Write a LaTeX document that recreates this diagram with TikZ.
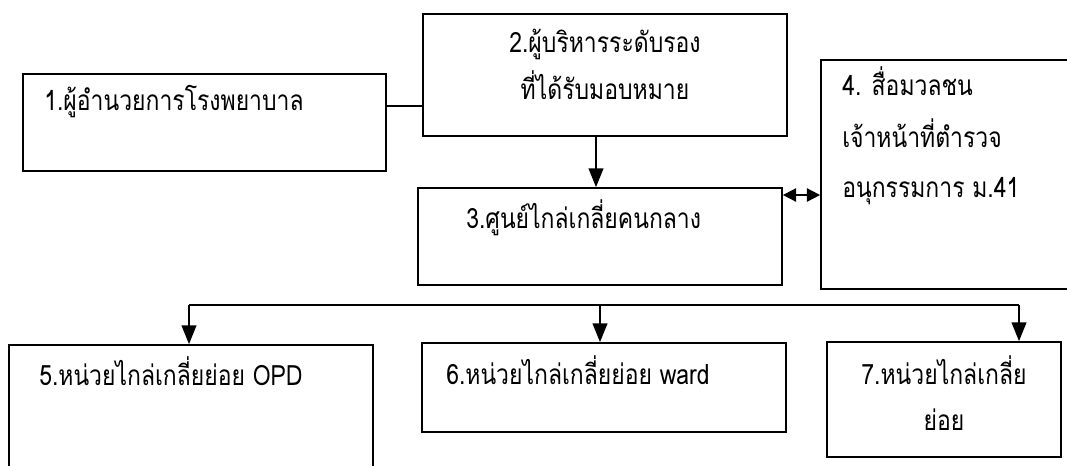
\documentclass[tikz,border=0pt]{standalone}
\usepackage{fontspec}
\newfontfamily\thaifont[Script=Thai,FakeStretch=0.82]{Loma}
\usetikzlibrary{arrows.meta,fit}
\begin{document}
\begin{tikzpicture}[x=0.75pt,y=-0.75pt,
  box/.style={draw, line width=1.3pt, inner sep=0pt},
  lbl/.style={font=\thaifont\fontsize{21}{25}\selectfont, inner sep=0pt},
  conn/.style={line width=1.3pt},
  arr/.style={conn, -{Triangle[length=14pt,width=11pt]}},
  darr/.style={conn, {Triangle[length=10pt,width=10pt]}-{Triangle[length=10pt,width=10pt]}}]
\useasboundingbox (0,0) rectangle (1067,465);
\clip (0,0) rectangle (1067,465);
% boxes
\node[box, fit={(22.7,74) (386,171)}] (b1) {};
\node[box, fit={(423,14) (787,136)}] (b2) {};
\node[box, fit={(418,188) (782,285)}] (b3) {};
\node[box, fit={(821,60) (1085,289)}] (b4) {};
\node[box, fit={(9,345) (373,485)}] (b5) {};
\node[box, fit={(422,343) (786,432)}] (b6) {};
\node[box, fit={(827,342) (1061,457)}] (b7) {};
% texts
\node[lbl, anchor=mid west] (t1) at (44,108) {1.ผู้อำนวยการโรงพยาบาล};
\node[lbl, anchor=mid] (t2a) at (605,50) {2.ผู้บริหารระดับรอง};
\node[lbl, anchor=mid] (t2b) at (605,97) {ที่ได้รับมอบหมาย};
\node[lbl, anchor=mid west] (t3) at (466,226) {3.ศูนย์ไกล่เกลี่ยคนกลาง};
\node[lbl, anchor=mid west] (t4a) at (842,93) {4. สื่อมวลชน};
\node[lbl, anchor=mid west] (t4b) at (842,145) {เจ้าหน้าที่ตำรวจ};
\node[lbl, anchor=mid west] (t4c) at (842,195) {อนุกรรมการ ม.41};
\node[lbl, anchor=mid west] (t5) at (39,383) {5.หน่วยไกล่เกลี่ยย่อย OPD};
\node[lbl, anchor=mid west] (t6) at (446,382) {6.หน่วยไกล่เกลี่ยย่อย ward};
\node[lbl, anchor=mid] (t7a) at (944,382) {7.หน่วยไกล่เกลี่ย};
\node[lbl, anchor=mid] (t7b) at (944,428) {ย่อย};
% connectors
\coordinate (j12) at (400,106);
\draw[conn] (j12 -| b1.east) -- (j12 -| b2.west);
\coordinate (a23) at (596,160);
\draw[arr] (a23 |- b2.south) -- (a23 |- b3.north);
\coordinate (d34) at (800,195);
\draw[darr] (d34 -| b3.east) -- (d34 -| b4.west);
\coordinate (k5) at (189,305);
\coordinate (k6) at (600,305);
\coordinate (k7) at (1019,305);
\draw[conn] (k5) -- (k7);
\draw[arr] (k5) -- (k5 |- b5.north);
\draw[arr] (k6) -- (k6 |- b6.north);
\draw[arr] (k7) -- (k7 |- b7.north);
\end{tikzpicture}
\end{document}
